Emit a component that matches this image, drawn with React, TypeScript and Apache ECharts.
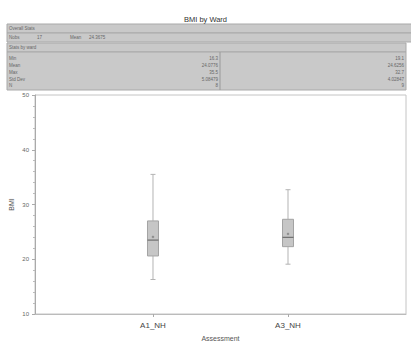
import React, { useEffect, useRef } from "react";
import * as echarts from "echarts";

const categories = ["A1_NH", "A3_NH"];
const mins = [16.3, 19.1];
const q1s = [20.6, 22.3];
const medians = [23.5, 24.0];
const q3s = [27.0, 27.3];
const maxs = [35.5, 32.7];
const means = [24.0776, 24.6256];

const overallLabels = ["Nobs", "17", "Mean", "24.3675"];
const statLabels = ["Min", "Mean", "Max", "Std Dev", "N"];
const statsA1 = ["16.3", "24.0776", "35.5", "5.08479", "8"];
const statsA3 = ["19.1", "24.6256", "32.7", "4.02847", "9"];

const FONT = "Liberation Sans, Arial, sans-serif";

export default function App() {
  const ref = useRef<HTMLDivElement>(null);
  useEffect(() => {
    const chart = echarts.init(ref.current!, null, { renderer: "svg" });
    const tableFill = "#c9c9c9";
    const tableStroke = "#a9a9a9";
    const tText = { fontSize: 4.5, fill: "#666", fontFamily: FONT };
    const rowYs = [58, 65, 72, 79, 85];
    const graphic: any[] = [
      { type: "rect", shape: { x: 7, y: 24, width: 410, height: 9 }, style: { fill: tableFill, stroke: tableStroke, lineWidth: 1 } },
      { type: "text", x: 9, y: 28.5, style: { ...tText, text: "Overall Stats", textVerticalAlign: "middle" } },
      { type: "rect", shape: { x: 7, y: 33, width: 410, height: 9 }, style: { fill: tableFill, stroke: tableStroke, lineWidth: 1 } },
      { type: "text", x: 9, y: 37.5, style: { ...tText, text: overallLabels[0], textVerticalAlign: "middle" } },
      { type: "text", x: 37, y: 37.5, style: { ...tText, text: overallLabels[1], textVerticalAlign: "middle" } },
      { type: "text", x: 70, y: 37.5, style: { ...tText, text: overallLabels[2], textVerticalAlign: "middle" } },
      { type: "text", x: 89, y: 37.5, style: { ...tText, text: overallLabels[3], textVerticalAlign: "middle" } },
      { type: "rect", shape: { x: 7, y: 43, width: 399, height: 9 }, style: { fill: tableFill, stroke: tableStroke, lineWidth: 1 } },
      { type: "text", x: 9, y: 47.5, style: { ...tText, text: "Stats by ward", textVerticalAlign: "middle" } },
      { type: "rect", shape: { x: 7, y: 52, width: 399, height: 38 }, style: { fill: tableFill, stroke: tableStroke, lineWidth: 1 } },
      { type: "line", shape: { x1: 220, y1: 52, x2: 220, y2: 90 }, style: { stroke: "#999", lineWidth: 1 } },
    ];
    statLabels.forEach((l, i) => {
      graphic.push({ type: "text", x: 9, y: rowYs[i], style: { ...tText, text: l, textVerticalAlign: "middle" } });
      graphic.push({ type: "text", x: 218, y: rowYs[i], style: { ...tText, text: statsA1[i], textAlign: "right", textVerticalAlign: "middle" } });
      graphic.push({ type: "text", x: 404, y: rowYs[i], style: { ...tText, text: statsA3[i], textAlign: "right", textVerticalAlign: "middle" } });
    });

    const data = categories.map((_, i) => [i, mins[i], q1s[i], medians[i], q3s[i], maxs[i], means[i]]);

    chart.setOption({
      animation: false,
      backgroundColor: "#fff",
      title: {
        text: "BMI by Ward",
        left: "center",
        top: 10,
        textStyle: { fontSize: 7.5, fontWeight: "normal", color: "#333", fontFamily: FONT },
      },
      graphic,
      grid: {
        left: 35, right: 5, top: 95, bottom: 29,
        outerBoundsMode: "none",
        containLabel: false,
        show: true, borderColor: "#c4c4c4", borderWidth: 1,
      },
      xAxis: {
        type: "value",
        min: -0.874,
        max: 1.874,
        name: "Assessment",
        nameLocation: "middle",
        nameGap: 21,
        nameMoveOverlap: false,
        nameTextStyle: { fontSize: 7, color: "#555", fontFamily: FONT },
        axisLine: { show: true, onZero: false, lineStyle: { color: "#bbb" } },
        axisTick: { show: true, length: 3, customValues: [0, 1], lineStyle: { color: "#aaa" } },
        axisLabel: {
          customValues: [0, 1],
          formatter: (v: number) => categories[Math.round(v)] ?? "",
          fontSize: 8, color: "#444", fontFamily: FONT, margin: 7,
        },
        splitLine: { show: false },
      },
      yAxis: {
        type: "value",
        min: 10,
        max: 50,
        interval: 10,
        name: "BMI",
        nameLocation: "middle",
        nameGap: 20,
        nameMoveOverlap: false,
        nameTextStyle: { fontSize: 7, color: "#555", fontFamily: FONT },
        axisLine: { show: true, onZero: false, lineStyle: { color: "#aaa" } },
        axisTick: { show: true, length: 3, lineStyle: { color: "#aaa" } },
        minorTick: { show: true, splitNumber: 5, length: 2, lineStyle: { color: "#bbb" } },
        axisLabel: { fontSize: 6, color: "#666", fontFamily: FONT, margin: 6 },
        splitLine: { show: false },
      },
      series: [
        {
          type: "custom",
          data,
          encode: { x: 0, y: [1, 2, 3, 4, 5, 6] },
          renderItem: (params: any, api: any) => {
            const xi = api.value(0);
            const pMin = api.coord([xi, api.value(1)]);
            const pQ1 = api.coord([xi, api.value(2)]);
            const pMed = api.coord([xi, api.value(3)]);
            const pQ3 = api.coord([xi, api.value(4)]);
            const pMax = api.coord([xi, api.value(5)]);
            const pMean = api.coord([xi, api.value(6)]);
            const cx = pMed[0];
            const hw = 5.5;
            const cap = 2.5;
            const wStyle = { stroke: "#b3b3b3", lineWidth: 1 };
            return {
              type: "group",
              children: [
                { type: "line", shape: { x1: cx, y1: pMax[1], x2: cx, y2: pQ3[1] }, style: wStyle },
                { type: "line", shape: { x1: cx, y1: pQ1[1], x2: cx, y2: pMin[1] }, style: wStyle },
                { type: "line", shape: { x1: cx - cap, y1: pMax[1], x2: cx + cap, y2: pMax[1] }, style: wStyle },
                { type: "line", shape: { x1: cx - cap, y1: pMin[1], x2: cx + cap, y2: pMin[1] }, style: wStyle },
                {
                  type: "rect",
                  shape: { x: cx - hw, y: pQ3[1], width: hw * 2, height: pQ1[1] - pQ3[1] },
                  style: { fill: "#c6c6c6", stroke: "#a3a3a3", lineWidth: 1 },
                },
                { type: "line", shape: { x1: cx - hw, y1: pMed[1], x2: cx + hw, y2: pMed[1] }, style: { stroke: "#6e6e6e", lineWidth: 1.2 } },
                { type: "line", shape: { x1: cx - 1.2, y1: pMean[1], x2: cx + 1.2, y2: pMean[1] }, style: { stroke: "#777", lineWidth: 0.8 } },
                { type: "line", shape: { x1: cx, y1: pMean[1] - 1.2, x2: cx, y2: pMean[1] + 1.2 }, style: { stroke: "#777", lineWidth: 0.8 } },
              ],
            };
          },
        },
      ],
    });
    return () => chart.dispose();
  }, []);
  return (
    <div
      ref={ref}
      style={{ position: "fixed", left: 0, top: 0, width: 411, height: 343 }}
    />
  );
}
